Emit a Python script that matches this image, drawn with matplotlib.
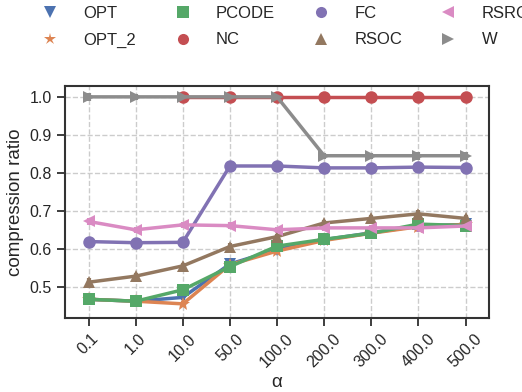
import matplotlib
matplotlib.use("Agg")
import matplotlib.pyplot as plt
from matplotlib.lines import Line2D
import numpy as np
import seaborn as sns

alphas = ["0.1", "1.0", "10.0", "50.0", "100.0", "200.0", "300.0", "400.0", "500.0"]
nan = np.nan

opt    = [0.467, 0.462, 0.472, 0.560, 0.598, 0.624, 0.642, 0.660, 0.664]
opt_2  = [0.467, 0.462, 0.455, 0.558, 0.594, 0.622, 0.641, 0.658, 0.664]
pcode  = [0.467, 0.462, 0.492, 0.553, 0.607, 0.625, 0.641, 0.665, 0.661]
nc     = [nan, nan, 1.0, 1.0, 1.0, 1.0, 1.0, 1.0, 1.0]
fc     = [0.619, 0.616, 0.617, 0.818, 0.818, 0.813, 0.813, 0.815, 0.814]
rsoc   = [0.512, 0.528, 0.555, 0.606, 0.632, 0.668, 0.680, 0.692, 0.680]
rsrc   = [0.672, 0.650, 0.663, 0.661, 0.650, 0.655, 0.655, 0.655, 0.660]
w      = [1.0, 1.0, 1.0, 1.0, 1.0, 0.845, 0.845, 0.845, 0.845]

# half-width of the small error bars
err_small = [0.010, 0.008, 0.008, 0.010, 0.008, 0.008, 0.008, 0.010, 0.010]
err_none  = [0.0] * 9

series = [
    ("OPT", opt, "v", err_small),
    ("OPT_2", opt_2, "*", err_small),
    ("PCODE", pcode, "s", err_small),
    ("NC", nc, "o", err_none),
    ("FC", fc, "o", err_none),
    ("RSOC", rsoc, "^", err_small),
    ("RSRC", rsrc, "<", err_small),
    ("W", w, ">", err_small),
]

sns.set_theme(style="ticks")
plt.rcParams["font.family"] = ["Liberation Sans", "DejaVu Sans"]
colors = sns.color_palette("deep", 8)

fig = plt.figure(figsize=(5.22, 3.92), dpi=100)
ax = fig.add_axes([0.1245, 0.189, 0.8125, 0.592])

x = np.arange(len(alphas))
handles = []
for (name, vals, mk, err), c in zip(series, colors):
    ax.errorbar(x, vals, yerr=err, color=c, marker=mk, markersize=10 if mk == "*" else 9,
                linewidth=2.5, elinewidth=3, capsize=0, markeredgewidth=0)
    handles.append(Line2D([], [], color=c, marker=mk, linestyle="none",
                          markersize=9 if mk == "*" else 8, markeredgewidth=0))

ax.set_xticks(x)
ax.set_xticklabels(alphas, rotation=45)
ax.set_xlim(-0.5, len(alphas) - 0.5)
ax.set_ylim(0.418, 1.029)
ax.set_yticks([0.5, 0.6, 0.7, 0.8, 0.9, 1.0])
ax.grid(True, linestyle="--", color="#cccccc", linewidth=1)
ax.tick_params(labelsize=11.5)
ax.set_xlabel("α", fontsize=13.5, labelpad=3)
ax.set_ylabel("compression ratio", fontsize=13.5)
for s in ax.spines.values():
    s.set_color("#333333")
    s.set_linewidth(1.5)

names = [s[0] for s in series]
fig.legend(handles, names, ncol=4, loc="upper left", bbox_to_anchor=(0.036, 1.023),
           frameon=False, fontsize=12, columnspacing=1.78, handlelength=2.0,
           handletextpad=0.985, labelspacing=0.69)

fig.savefig("out.png", dpi=100)
